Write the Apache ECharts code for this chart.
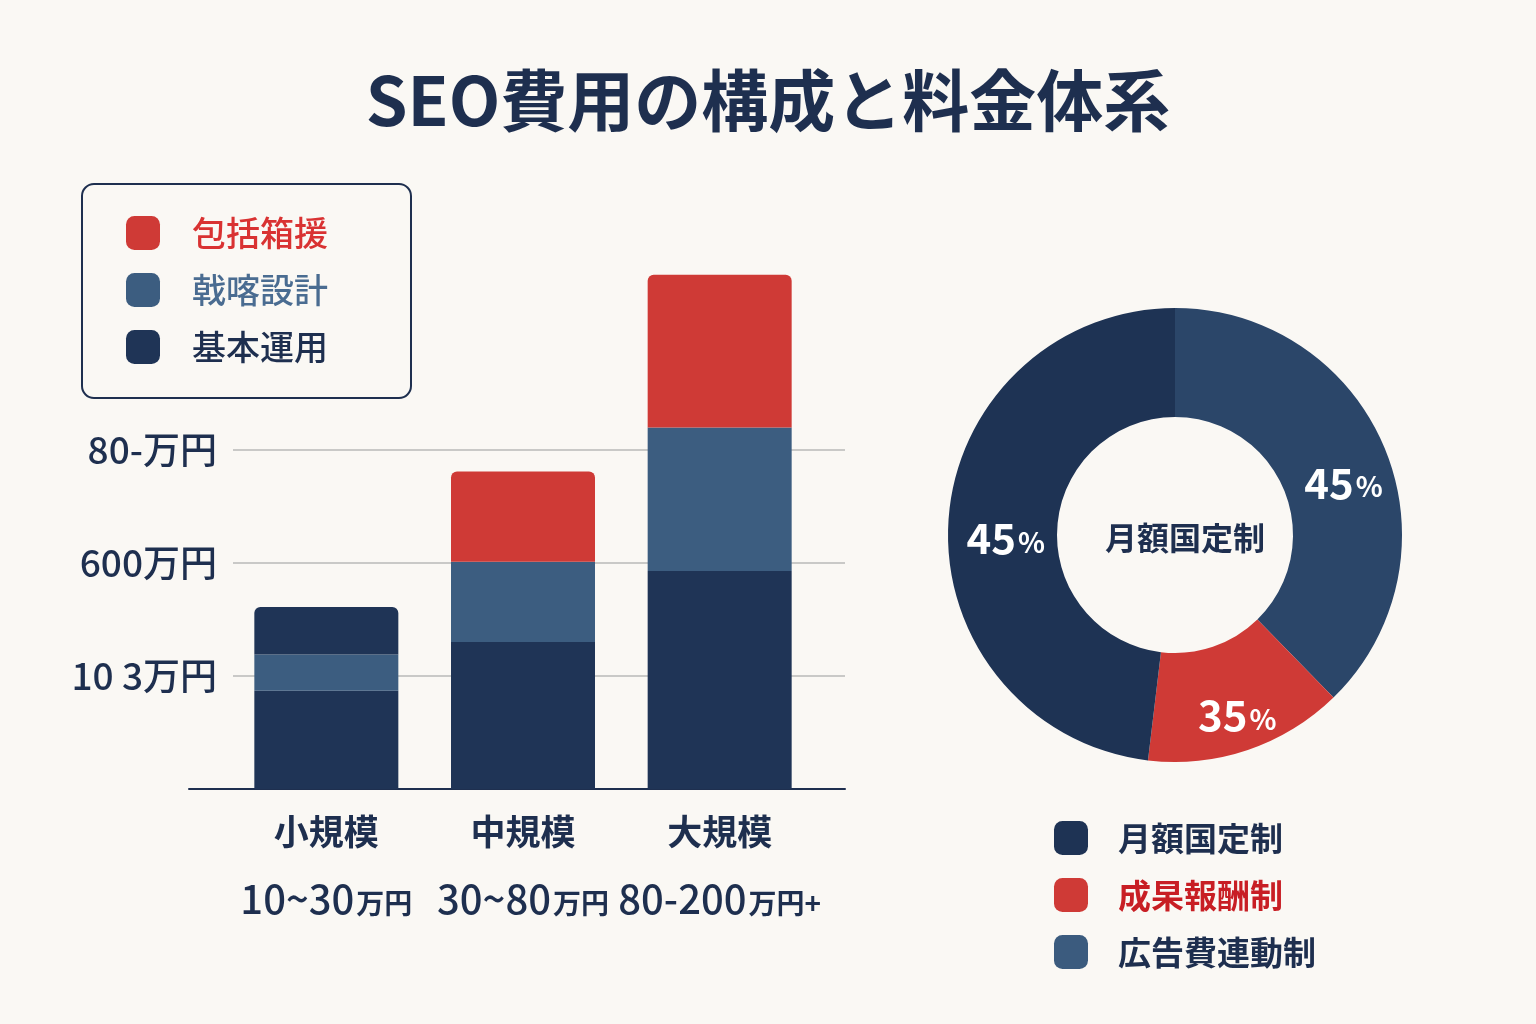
<!DOCTYPE html>
<html>
<head>
<meta charset="utf-8">
<script src="https://cdn.jsdelivr.net/npm/echarts@6/dist/echarts.min.js"></script>
<style>
  html, body { margin: 0; padding: 0; background: #faf8f4; }
  #chart { width: 1536px; height: 1024px; }
</style>
</head>
<body>
<div id="chart"></div>
<script>
// bar chart data (units = one gridline step)
const categories = ['小規模', '中規模', '大規模'];
const rangeNums = ['10~30', '30~80', '80-200'];
const rangeUnits = ['万円', '万円', '万円+'];
const yTickLabels = ['', '10 3万円', '600万円', '80-万円'];
const basicOps = [0.87, 1.30, 1.93];
const strategy = [0.32, 0.71, 1.27];
const fullSupport = [0.42, 0.80, 1.35];

// donut data (angles as drawn, labels as printed)
const pieNames = ['広告費連動制', '成杲報酬制', '月額国定制'];
const pieValues = [37.7, 14.2, 48.1];
const pieLabelText = ['45', '35', '45'];

const FONT = '"Noto Sans CJK JP", "Noto Sans", sans-serif';
const NAVY = '#1f3456';
const STEEL = '#3c5d80';
const RED = '#cf3a36';
const INK = '#1e2f4f';

const chart = echarts.init(document.getElementById('chart'));

const yBase = { type: 'value', min: 0, max: 3, interval: 1 };

chart.setOption({
    backgroundColor: '#faf8f4',
    color: [NAVY, STEEL, RED],
    textStyle: { fontFamily: FONT },
    title: {
        text: 'SEO費用の構成と料金体系',
        left: 'center',
        top: 62,
        textStyle: { fontSize: 67, fontWeight: 'bold', color: INK, fontFamily: FONT },
    },
    legend: [
        {
            left: 82, top: 184,
            orient: 'vertical',
            icon: 'roundRect',
            itemWidth: 34, itemHeight: 34, itemGap: 23,
            borderColor: INK, borderWidth: 2, borderRadius: 12,
            padding: [32, 83, 34, 44],
            textStyle: { fontSize: 34, fontWeight: 500, padding: [0, 0, 0, 27] },
            data: [
                { name: '包括箱援', textStyle: { color: '#d93232' }, itemStyle: { color: RED } },
                { name: '戟喀設計', textStyle: { color: '#4a6c91' }, itemStyle: { color: STEEL } },
                { name: '基本運用', textStyle: { color: INK }, itemStyle: { color: NAVY } },
            ],
            selectedMode: false,
        },
        {
            left: 1054, top: 821,
            orient: 'vertical',
            icon: 'roundRect',
            padding: 0,
            itemWidth: 34, itemHeight: 34, itemGap: 23,
            textStyle: { fontSize: 33, fontWeight: 600, padding: [0, 0, 0, 25] },
            data: [
                { name: '月額国定制', textStyle: { color: INK }, itemStyle: { color: '#1e3354' } },
                { name: '成杲報酬制', textStyle: { color: '#c81e24' }, itemStyle: { color: RED } },
                { name: '広告費連動制', textStyle: { color: INK }, itemStyle: { color: '#3b5b7e' } },
            ],
            selectedMode: false,
        },
    ],
    grid: [
        { left: 228, right: 718, top: 450, bottom: 235 },
        { left: 233, right: 691, top: 450, bottom: 235 },
        { left: 189, right: 691, top: 450, bottom: 235 },
    ],
    xAxis: [
        {
            type: 'category', gridIndex: 0, data: categories,
            axisLine: { show: false }, axisTick: { show: false },
            axisLabel: {
                margin: 20,
                formatter: (v, i) => `{a|${v}}\n{n|${rangeNums[i]}}{u|${rangeUnits[i]}}`,
                rich: {
                    a: { fontSize: 35, fontWeight: 600, color: INK, lineHeight: 46, fontFamily: FONT },
                    n: { fontSize: 40, fontWeight: 500, color: INK, lineHeight: 88, fontFamily: FONT },
                    u: { fontSize: 28, fontWeight: 600, color: INK, lineHeight: 88, padding: [9, 0, 0, 2], fontFamily: FONT },
                },
            },
        },
        { type: 'value', gridIndex: 1, min: 0, max: 1, show: false },
        {
            type: 'value', gridIndex: 2, min: 0, max: 1,
            axisLine: { show: true, lineStyle: { color: INK, width: 2 } },
            axisTick: { show: false }, axisLabel: { show: false }, splitLine: { show: false },
        },
    ],
    yAxis: [
        Object.assign({ gridIndex: 0, show: false }, yBase),
        Object.assign({
            gridIndex: 1,
            axisLine: { show: false }, axisTick: { show: false },
            axisLabel: {
                margin: 16, fontSize: 37, fontWeight: 500, color: INK, fontFamily: FONT,
                formatter: (v) => yTickLabels[Math.round(v)] || '',
            },
            splitLine: { lineStyle: { color: '#c9c9c7', width: 2 } },
        }, yBase),
        Object.assign({ gridIndex: 2, show: false }, yBase),
    ],
    series: [
        {
            name: '基本運用', type: 'bar', stack: 'cost', data: basicOps,
            xAxisIndex: 0, yAxisIndex: 0, barWidth: 144, clip: false,
            itemStyle: { color: NAVY },
        },
        {
            name: '戟喀設計', type: 'bar', stack: 'cost', data: strategy,
            xAxisIndex: 0, yAxisIndex: 0, barWidth: 144, clip: false,
            itemStyle: { color: STEEL },
        },
        {
            name: '包括箱援', type: 'bar', stack: 'cost', data: fullSupport,
            xAxisIndex: 0, yAxisIndex: 0, barWidth: 144, clip: false,
            // the small plan's top block is drawn navy in the source
            itemStyle: { color: (p) => (p.dataIndex === 0 ? NAVY : RED), borderRadius: [6, 6, 0, 0] },
        },
        {
            type: 'pie',
            center: [1175, 535],
            radius: [118, 227],
            startAngle: 90,
            clockwise: true,
            silent: true,
            color: ['#2b4669', RED, '#1e3354'],
            data: pieNames.map((n, i) => ({ name: n, value: pieValues[i] })),
            label: {
                position: 'inside',
                offset: [6, 14],
                formatter: (p) => `{n|${pieLabelText[p.dataIndex]}}{p|%}`,
                rich: {
                    n: { fontSize: 42, fontWeight: 'bold', color: '#fff', fontFamily: FONT },
                    p: { fontSize: 28, fontWeight: 'bold', color: '#fff', padding: [8, 0, 0, 2], fontFamily: FONT },
                },
            },
            labelLine: { show: false },
        },
    ],
    graphic: [
        {
            type: 'text', x: 1185, y: 538,
            style: {
                text: '月額国定制', align: 'center', verticalAlign: 'middle',
                fontSize: 32, fontWeight: 'bold', fill: INK, fontFamily: FONT,
            },
        },
    ],
});
</script>
</body>
</html>
